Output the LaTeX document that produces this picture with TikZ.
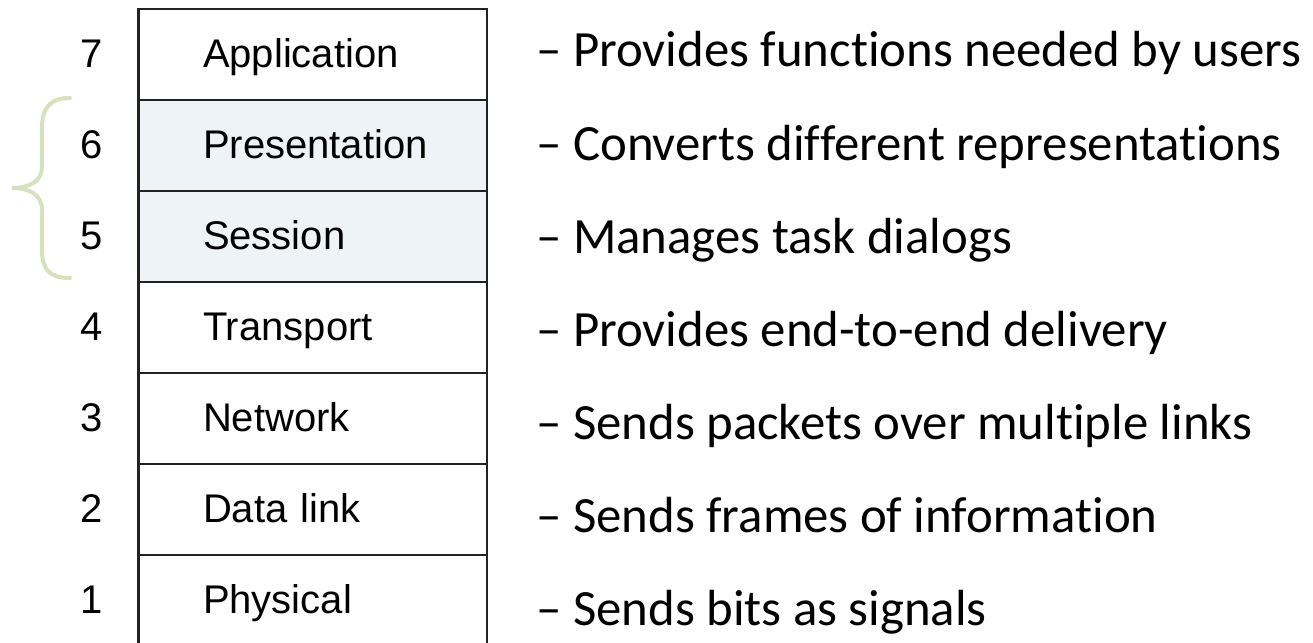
\documentclass[tikz,border=0pt]{standalone}
\usepackage{fontspec}
\setmainfont{Liberation Sans}
\newfontfamily\descfont[Ligatures=NoCommon]{Carlito}
\usepackage{tikz}
\usetikzlibrary{positioning}
\definecolor{shade}{RGB}{238,243,248}
\definecolor{bracegreen}{RGB}{214,226,190}
\definecolor{rule}{RGB}{34,34,34}

\begin{document}
\begin{tikzpicture}[x=0.5pt, y=0.5pt,
	layer/.style={draw=rule, line width=1.2pt, rectangle, outer sep=0pt,
		minimum width=174.25pt, minimum height=45.5pt, inner xsep=32.25pt, inner ysep=0pt,
		text width=109.75pt, align=left, font=\fontsize{20}{24}\selectfont,
		text height=16pt, text depth=3pt},
	num/.style={inner sep=0pt, font=\fontsize{20}{24}\selectfont, text height=16pt, text depth=3pt},
	desc/.style={inner sep=0pt, anchor=west, font=\descfont\fontsize{25.4}{30}\selectfont,
		text height=18.5pt, text depth=6pt}]
	\useasboundingbox (0,0) rectangle (1313,643);
	\node[layer] (app) at (312.75,588.5) {Application};
	\node[layer, fill=shade, below=0pt of app] (pres) {Presentation};
	\node[layer, fill=shade, below=0pt of pres] (sess) {Session};
	\node[layer, below=0pt of sess] (trans) {Transport};
	\node[layer, below=0pt of trans] (net) {Network};
	\node[layer, below=0pt of net] (dlink) {Data link};
	\node[layer, below=0pt of dlink] (phys) {Physical};
	\node[num, left=17.75pt of app] (n7) {7};
	\node[num, left=17.75pt of pres] (n6) {6};
	\node[num, left=17.75pt of sess] (n5) {5};
	\node[num, left=17.75pt of trans] (n4) {4};
	\node[num, left=17.75pt of net] (n3) {3};
	\node[num, left=17.75pt of dlink] (n2) {2};
	\node[num, left=17.75pt of phys] (n1) {1};
	\node[desc, right=24.5pt of app] (d7) {– Provides functions needed by users};
	\node[desc, below=21.65pt of d7.south west, anchor=north west] (d6) {– Converts different representations};
	\node[desc, below=21.65pt of d6.south west, anchor=north west] (d5) {– Manages task dialogs};
	\node[desc, below=21.65pt of d5.south west, anchor=north west] (d4) {– Provides end-to-end delivery};
	\node[desc, below=21.65pt of d4.south west, anchor=north west] (d3) {– Sends packets over multiple links};
	\node[desc, below=21.65pt of d3.south west, anchor=north west] (d2) {– Sends frames of information};
	\node[desc, below=21.65pt of d2.south west, anchor=north west] (d1) {– Sends bits as signals};
	\draw[bracegreen, line width=2pt, line cap=round]
		(70,545) .. controls (50,545) and (42,535) .. (42,515) -- (42,476)
		.. controls (42,462) and (30,455) .. (12,455)
		.. controls (30,455) and (42,448) .. (42,433) -- (42,393)
		.. controls (42,373) and (50,365) .. (70,365);
\end{tikzpicture}
\end{document}
